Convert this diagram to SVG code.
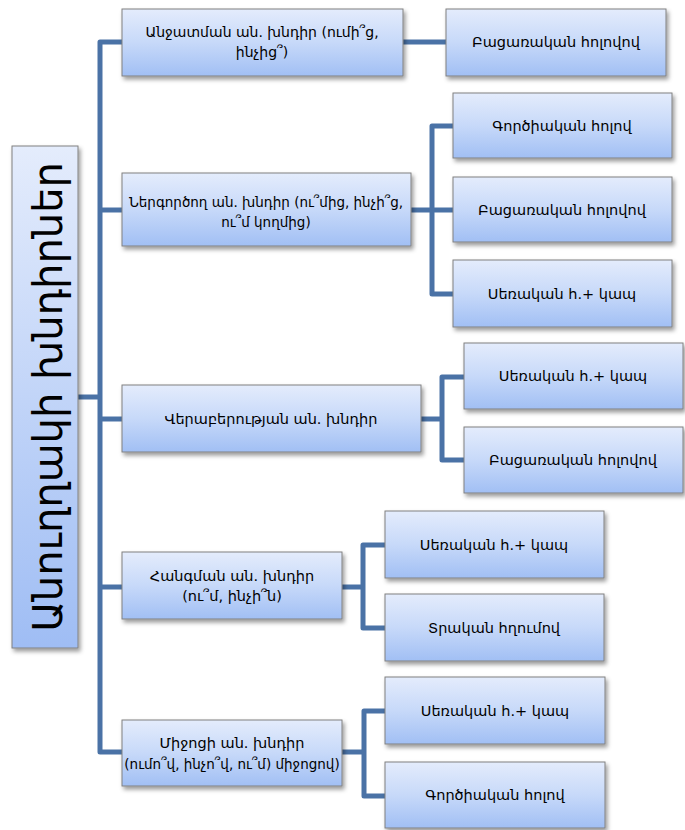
<svg xmlns="http://www.w3.org/2000/svg" width="685" height="830" viewBox="0 0 685 830">
  <defs>
    <linearGradient id="fillBox" x1="0" y1="0" x2="0" y2="1">
      <stop offset="0" stop-color="#e4ecfc"/>
      <stop offset="0.5" stop-color="#c7d9f9"/>
      <stop offset="1" stop-color="#a1bff4"/>
    </linearGradient>
    <linearGradient id="fillTitle" x1="0" y1="0" x2="0" y2="1">
      <stop offset="0" stop-color="#e4ecfc"/>
      <stop offset="1" stop-color="#9fbdf4"/>
    </linearGradient>
    <filter id="shadow" x="-10%" y="-10%" width="125%" height="135%">
      <feDropShadow dx="2" dy="3" stdDeviation="2" flood-color="#000" flood-opacity="0.4"/>
    </filter>
    <style>
      .box { fill: url(#fillBox); stroke: #808080; stroke-width: 1; filter: url(#shadow); }
      .title-box { fill: url(#fillTitle); stroke: #808080; stroke-width: 1; filter: url(#shadow); }
      .lbl { font-family: "DejaVu Sans", "Noto Sans", sans-serif; font-size: 14.5px; fill: #000; text-anchor: middle; }
      .lbl-tight { font-size: 13.5px; }
      .lbl-mid { font-size: 14px; }
      .title { font-family: "DejaVu Sans", "Noto Sans", sans-serif; font-size: 40px; fill: #000; text-anchor: middle; }
      .wire { fill: none; stroke: #4a72a6; stroke-width: 5; stroke-linejoin: round; }
    </style>
  </defs>

  <!-- connectors -->
  <g id="connectors">
    <path class="wire" d="M78 397 H100"/>
    <path class="wire" d="M122 42 H100 V752 H122"/>
    <path class="wire" d="M100 210 H122"/>
    <path class="wire" d="M100 419 H122"/>
    <path class="wire" d="M100 587 H122"/>
    <path class="wire" d="M403 42 H446"/>
    <path class="wire" d="M411 210 H453"/>
    <path class="wire" d="M453 126 H432 V294 H453"/>
    <path class="wire" d="M421 419 H442"/>
    <path class="wire" d="M464 377 H442 V460 H464"/>
    <path class="wire" d="M342 587 H363"/>
    <path class="wire" d="M385 545 H363 V628 H385"/>
    <path class="wire" d="M342 752 H364"/>
    <path class="wire" d="M385 711 H364 V796 H385"/>
  </g>

  <!-- root -->
  <g id="root">
    <rect class="title-box" x="12" y="146" width="66" height="502"/>
    <text class="title" x="45" y="414" transform="rotate(-90 45 397)">Անուղղակի խնդիրներ</text>
  </g>

  <!-- branch 1 -->
  <g id="n-anjatman">
    <rect class="box" x="122" y="9" width="281" height="67"/>
    <text class="lbl lbl-mid" x="262" y="37">Անջատման ան. խնդիր (ումի՞ց,</text>
    <text class="lbl lbl-mid" x="262" y="57">ինչից՞)</text>
  </g>
  <g id="n-anjatman-1">
    <rect class="box" x="446" y="9" width="220" height="67"/>
    <text class="lbl" x="556" y="47">Բացառական հոլովով</text>
  </g>

  <!-- branch 2 -->
  <g id="n-nergortsogh">
    <rect class="box" x="122" y="173" width="289" height="73"/>
    <text class="lbl lbl-tight" x="266" y="207">Ներգործող ան. խնդիր (ու՞մից, ինչի՞ց,</text>
    <text class="lbl lbl-tight" x="266" y="227">ու՞մ կողմից)</text>
  </g>
  <g id="n-nergortsogh-1">
    <rect class="box" x="453" y="93" width="219" height="65"/>
    <text class="lbl" x="562" y="131">Գործիական հոլով</text>
  </g>
  <g id="n-nergortsogh-2">
    <rect class="box" x="453" y="177" width="219" height="65"/>
    <text class="lbl" x="562" y="215">Բացառական հոլովով</text>
  </g>
  <g id="n-nergortsogh-3">
    <rect class="box" x="453" y="260" width="219" height="67"/>
    <text class="lbl" x="562" y="299">Սեռական հ.+ կապ</text>
  </g>

  <!-- branch 3 -->
  <g id="n-veraberutyan">
    <rect class="box" x="122" y="385" width="299" height="67"/>
    <text class="lbl" x="271" y="424">Վերաբերության ան. խնդիր</text>
  </g>
  <g id="n-veraberutyan-1">
    <rect class="box" x="464" y="343" width="219" height="66"/>
    <text class="lbl" x="573" y="381">Սեռական հ.+ կապ</text>
  </g>
  <g id="n-veraberutyan-2">
    <rect class="box" x="464" y="427" width="219" height="66"/>
    <text class="lbl" x="573" y="465">Բացառական հոլովով</text>
  </g>

  <!-- branch 4 -->
  <g id="n-hangman">
    <rect class="box" x="122" y="552" width="220" height="67"/>
    <text class="lbl" x="232" y="581">Հանգման ան. խնդիր</text>
    <text class="lbl" x="232" y="601">(ու՞մ, ինչի՞ն)</text>
  </g>
  <g id="n-hangman-1">
    <rect class="box" x="385" y="511" width="219" height="67"/>
    <text class="lbl" x="494" y="550">Սեռական հ.+ կապ</text>
  </g>
  <g id="n-hangman-2">
    <rect class="box" x="385" y="594" width="219" height="67"/>
    <text class="lbl" x="494" y="633">Տրական հղումով</text>
  </g>

  <!-- branch 5 -->
  <g id="n-mijotsi">
    <rect class="box" x="122" y="720" width="220" height="66"/>
    <text class="lbl" x="232" y="748">Միջոցի ան. խնդիր</text>
    <text class="lbl lbl-tight" x="232" y="769">(ումո՞վ, ինչո՞վ, ու՞մ) միջոցով)</text>
  </g>
  <g id="n-mijotsi-1">
    <rect class="box" x="385" y="677" width="220" height="67"/>
    <text class="lbl" x="495" y="716">Սեռական հ.+ կապ</text>
  </g>
  <g id="n-mijotsi-2">
    <rect class="box" x="385" y="762" width="220" height="66"/>
    <text class="lbl" x="495" y="800">Գործիական հոլով</text>
  </g>
</svg>
